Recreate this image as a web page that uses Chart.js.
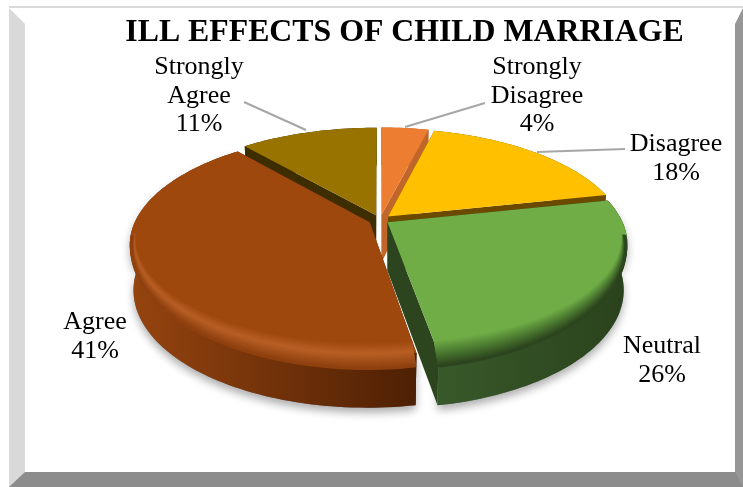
<!DOCTYPE html>
<html>
<head>
<meta charset="utf-8">
<script src="https://cdn.jsdelivr.net/npm/chart.js@4"></script>
<style>
  body { margin: 0; background: #fff; }
  #line { position: absolute; left: 9px; top: 6px; width: 734px; height: 2px; background: #d9d9d9; }
  #frame {
    position: absolute; left: 9px; top: 8px; width: 710px; height: 448px;
    border-style: solid; border-width: 16px 8px 15px 16px;
    border-color: #fff #969696 #8c8c8c #d9d9d9;
  }
  canvas { position: absolute; left: 0; top: 0; }
</style>
</head>
<body>
<div id="line"></div>
<div id="frame"></div>
<canvas id="pie" width="743" height="487"></canvas>
<script>
const categories = ["Strongly Disagree", "Disagree", "Neutral", "Agree", "Strongly Agree"];
const shares = [3.9, 17.7, 25.7, 41.4, 11.3];
const titleText = "ILL EFFECTS OF CHILD MARRIAGE";

const faceColors = ["#ed7d31", "#ffc000", "#70ad47", "#9e480e", "#997300"];
const sideColors = ["#c0662b", "#6b4a00", "#2c451e", "#4f2004", "#3d2d00"];
const wallLeft = ["#c0662b", "#6b4a00", "#38592a", "#96440f", "#3d2d00"];
const wallRight = ["#c0662b", "#6b4a00", "#2a421c", "#4e2004", "#3d2d00"];
const rimStops = [null, null, ["#2c451e", "#4f7f33"], ["#8f400f", "#b85f25"], null];

// label lines are centred on x, y is the middle of the first line
const labelSpots = [
  { x: 537, y: 67, lines: ["Strongly", "Disagree"], from: [485, 103], to: [405, 127] },
  { x: 676, y: 144, lines: ["Disagree"], from: [625, 149], to: [537, 152] },
  { x: 662, y: 346, lines: ["Neutral"] },
  { x: 95, y: 322, lines: ["Agree"] },
  { x: 199, y: 67, lines: ["Strongly", "Agree"], from: [244, 102], to: [306, 130] },
];

// flattened disc with a bit of perspective: front is nearer than back
const view = { cx: 380, cy: 220, rx: 234, ry: 106.3, k: 0.195, depth: 44, taper: 0.985 };

function project(u, v, h) {
  const w = 1 - view.k * v;
  return [view.cx + view.rx * u / w, view.cy + view.ry * v / w + h * view.depth / w];
}

function mix(a, b, t) {
  const pa = parseInt(a.slice(1), 16), pb = parseInt(b.slice(1), 16);
  const c = [16, 8, 0].map((s) => Math.round(((pa >> s) & 255) * (1 - t) + ((pb >> s) & 255) * t));
  return "#" + c.map((n) => n.toString(16).padStart(2, "0")).join("");
}

function tracePts(ctx, pts) {
  ctx.beginPath();
  pts.forEach((p, i) => (i ? ctx.lineTo(p[0], p[1]) : ctx.moveTo(p[0], p[1])));
  ctx.closePath();
}

function sliceGeom(el) {
  const mid = (el.startAngle + el.endAngle) / 2;
  const d = el.options.offset / el.outerRadius;
  const u0 = d * Math.cos(mid), v0 = d * Math.sin(mid);
  const angles = [];
  const n = Math.max(8, Math.ceil((el.endAngle - el.startAngle) * 40));
  for (let i = 0; i <= n; i++) angles.push(el.startAngle + (el.endAngle - el.startAngle) * i / n);
  return { u0, v0, angles };
}

const pie3d = {
  id: "pie3d",
  beforeDatasetDraw(chart, args) {
    const ctx = chart.ctx;
    const arcs = args.meta.data;
    const geoms = arcs.map(sliceGeom);
    const wallOf = (g) => {
      const top = g.angles.map((a) => project(g.u0 + Math.cos(a), g.v0 + Math.sin(a), 0));
      const bot = g.angles.map((a) =>
        project(g.u0 + view.taper * Math.cos(a), g.v0 + view.taper * Math.sin(a), 1)).reverse();
      return top.concat(bot);
    };

    // soft shadow under the whole pie
    ctx.save();
    ctx.shadowColor = "rgba(0,0,0,0.32)";
    ctx.shadowBlur = 9;
    ctx.shadowOffsetY = 5;
    ctx.fillStyle = "#777";
    [2, 3].forEach((i) => { tracePts(ctx, wallOf(geoms[i])); ctx.fill(); });
    ctx.restore();

    // back slices first
    const order = [0, 4, 1, 2, 3];
    order.forEach((i) => {
      const g = geoms[i];
      const a0 = g.angles[0], a1 = g.angles[g.angles.length - 1];
      const side = (a) => [
        project(g.u0, g.v0, 0),
        project(g.u0 + Math.cos(a), g.v0 + Math.sin(a), 0),
        project(g.u0 + view.taper * Math.cos(a), g.v0 + view.taper * Math.sin(a), 1),
        project(g.u0, g.v0, 1.1),
      ];
      ctx.fillStyle = sideColors[i];
      tracePts(ctx, side(a0)); ctx.fill();
      tracePts(ctx, side(a1)); ctx.fill();

      const wall = wallOf(g);
      const xs = wall.map((p) => p[0]);
      const grad = ctx.createLinearGradient(Math.min(...xs), 0, Math.max(...xs), 0);
      grad.addColorStop(0, wallLeft[i]);
      grad.addColorStop(1, wallRight[i]);
      ctx.fillStyle = grad;
      tracePts(ctx, wall); ctx.fill();

      const face = [project(g.u0, g.v0, 0)].concat(
        g.angles.map((a) => project(g.u0 + Math.cos(a), g.v0 + Math.sin(a), 0)));
      ctx.fillStyle = faceColors[i];
      tracePts(ctx, face); ctx.fill();

      // rounded rim along the near edge
      const rim = rimStops[i];
      if (rim) {
        const steps = 26;
        for (let s = steps; s >= 0; s--) {
          const t = s / steps; // 0 at the edge, 1 inside
          const hang = (1 - t) * 0.26;
          let col;
          if (t > 0.55) col = mix(faceColors[i], rim[1], (1 - t) / 0.45);
          else col = mix(rim[1], rim[0], (0.55 - t) / 0.55);
          ctx.strokeStyle = col;
          ctx.lineWidth = 2.5;
          ctx.beginPath();
          let pen = false;
          g.angles.forEach((a) => {
            const f = Math.max(0, Math.sin(a) + 0.02) / 1.02;
            if (f < 0.12) { pen = false; return; }
            const r = 0.994 - 0.07 * t * f;
            const p = project(g.u0 + r * Math.cos(a), g.v0 + r * Math.sin(a), hang * f);
            if (pen) ctx.lineTo(p[0], p[1]);
            else ctx.moveTo(p[0], p[1]);
            pen = true;
          });
          ctx.stroke();
        }
      }
    });
    return false;
  },
  afterDraw(chart) {
    const ctx = chart.ctx;
    ctx.save();
    ctx.font = "26px 'Liberation Serif'";
    ctx.textAlign = "center";
    ctx.textBaseline = "middle";
    labelSpots.forEach((spot, i) => {
      if (spot.from) {
        ctx.strokeStyle = "#a6a6a6";
        ctx.lineWidth = 2;
        ctx.beginPath();
        ctx.moveTo(spot.from[0], spot.from[1]);
        ctx.lineTo(spot.to[0], spot.to[1]);
        ctx.stroke();
      }
      ctx.fillStyle = "#000";
      spot.lines.concat(Math.round(shares[i]) + "%").forEach((line, j) => {
        ctx.fillText(line, spot.x, spot.y + j * 28.8);
      });
    });
    ctx.restore();
  },
};

new Chart(document.getElementById("pie"), {
  type: "pie",
  data: {
    labels: categories,
    datasets: [{ data: shares, backgroundColor: faceColors, borderWidth: 0, offset: [10, 10, 8, 10, 10] }],
  },
  options: {
    responsive: false,
    animation: false,
    layout: { padding: { left: 66, top: 14 } },
    plugins: {
      legend: { display: false },
      tooltip: { enabled: false },
      title: {
        display: true,
        text: titleText,
        color: "#000",
        font: { family: "'Liberation Serif'", size: 31.8, weight: "bold" },
        padding: { top: 0, bottom: 10 },
      },
    },
  },
  plugins: [pie3d],
});
</script>
</body>
</html>
